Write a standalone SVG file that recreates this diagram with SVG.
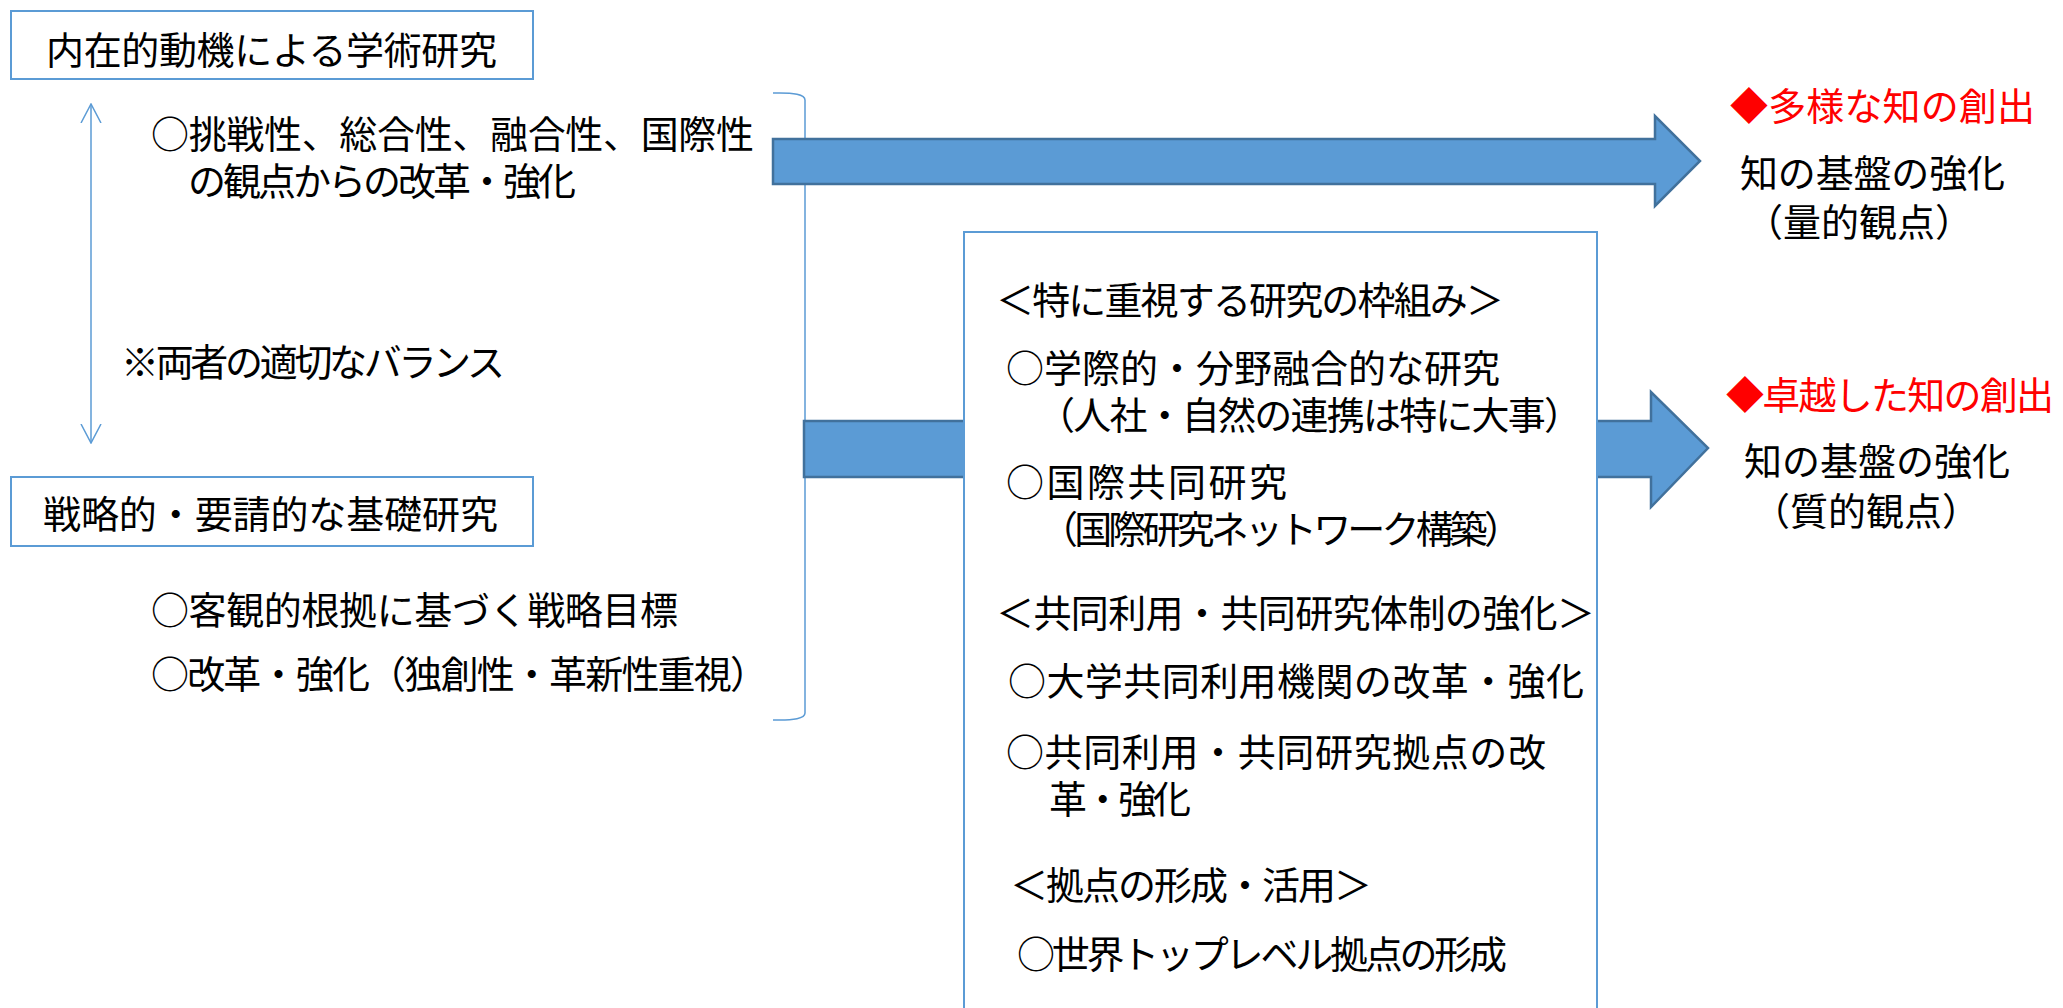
<svg xmlns="http://www.w3.org/2000/svg" width="2063" height="1008" viewBox="0 0 2063 1008">
<defs>
<style>
.t{font-family:"Noto Sans CJK JP","Noto Sans CJK SC",sans-serif;font-size:38px;fill:#000;dominant-baseline:central}
.r{fill:#FF0000}
.box{fill:#fff;stroke:#5B9BD5;stroke-width:2}
.ln{fill:none;stroke:#5B9BD5;stroke-width:1.5}
.blk{fill:#5B9BD5;stroke:#41719C;stroke-width:2.5;stroke-linejoin:miter}
</style>
<marker id="oa" viewBox="0 0 20 22" refX="19" refY="11" markerWidth="20" markerHeight="22" markerUnits="userSpaceOnUse" orient="auto-start-reverse">
<path d="M0,1 L19,11 L0,21" fill="none" stroke="#5B9BD5" stroke-width="1.5"/>
</marker>
</defs>
<rect width="2063" height="1008" fill="#fff"/>

<g id="connectors">
<path id="bracket" class="ln" d="M773,93 Q805,92 805,100 V713 Q805,721 773,720"/>
<line id="balance-arrow" class="ln" x1="91" y1="104" x2="91" y2="443" marker-start="url(#oa)" marker-end="url(#oa)"/>
<path id="arrow-top" class="blk" d="M773,139 H1655 V116 L1700,161 L1655,206 V184 H773 Z"/>
<path id="arrow-mid" class="blk" d="M804,421 H1651 V392 L1708,448 L1651,507 V477 H804 Z"/>
</g>

<g id="node-intrinsic">
<rect class="box" x="11" y="11" width="522" height="68"/>
<text class="t" x="46" y="47" textLength="451">内在的動機による学術研究</text>
</g>

<g id="node-intrinsic-items">
<text class="t" x="151" y="131" textLength="603">○挑戦性、総合性、融合性、国際性</text>
<text class="t" x="188" y="178" textLength="388">の観点からの改革・強化</text>
</g>

<g id="node-balance">
<text class="t" x="121" y="359" textLength="384">※両者の適切なバランス</text>
</g>

<g id="node-strategic">
<rect class="box" x="11" y="477" width="522" height="69"/>
<text class="t" x="43" y="511" textLength="455">戦略的・要請的な基礎研究</text>
</g>

<g id="node-strategic-items">
<text class="t" x="151" y="607" textLength="527">○客観的根拠に基づく戦略目標</text>
<text class="t" x="151" y="671" textLength="617">○改革・強化（独創性・革新性重視）</text>
</g>

<g id="node-framework">
<rect class="box" x="964" y="232" width="633" height="800"/>
<text class="t" x="996" y="297" textLength="508">＜特に重視する研究の枠組み＞</text>
<text class="t" x="1006" y="365" textLength="494">○学際的・分野融合的な研究</text>
<text class="t" x="1037" y="412" textLength="545">（人社・自然の連携は特に大事）</text>
<text class="t" x="1006" y="479" textLength="281">○国際共同研究</text>
<text class="t" x="1040" y="526" textLength="482">（国際研究ネットワーク構築）</text>
<text class="t" x="996" y="610" textLength="599">＜共同利用・共同研究体制の強化＞</text>
<text class="t" x="1008" y="678" textLength="576">○大学共同利用機関の改革・強化</text>
<text class="t" x="1006" y="749" textLength="540">○共同利用・共同研究拠点の改</text>
<text class="t" x="1049" y="796" textLength="142">革・強化</text>
<text class="t" x="1010" y="882" textLength="362">＜拠点の形成・活用＞</text>
<text class="t" x="1017" y="951" textLength="490">○世界トップレベル拠点の形成</text>
</g>

<g id="node-diverse">
<text class="t r" x="1730" y="103" textLength="305">◆多様な知の創出</text>
<text class="t" x="1740" y="170" textLength="265">知の基盤の強化</text>
<text class="t" x="1745" y="219">（量的観点）</text>
</g>

<g id="node-excellent">
<text class="t r" x="1726" y="392" textLength="328">◆卓越した知の創出</text>
<text class="t" x="1744" y="458" textLength="266">知の基盤の強化</text>
<text class="t" x="1752" y="508">（質的観点）</text>
</g>
</svg>
